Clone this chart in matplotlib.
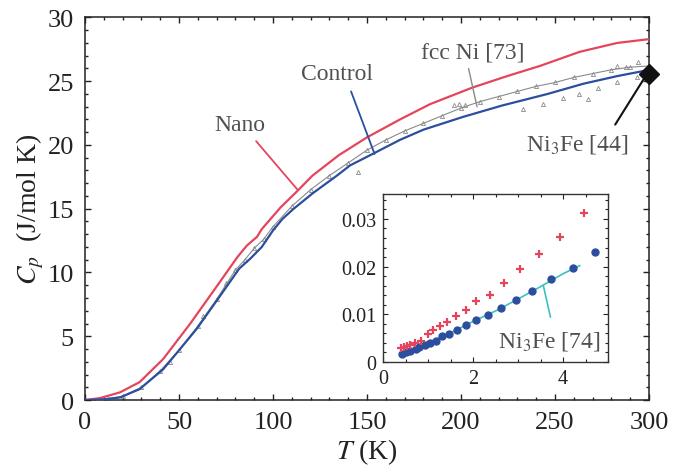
import matplotlib
matplotlib.use("Agg")
from matplotlib import pyplot as plt

plt.rcParams['font.family'] = ['Liberation Serif', 'DejaVu Serif']
plt.rcParams['mathtext.fontset'] = 'stix'

# main panel: heat capacity vs temperature
T_nano = [0, 8, 18.6, 29, 41.5, 56, 70, 81, 86, 91.5, 94, 104, 113, 121, 135, 150, 167.5, 183.5, 206, 224.5, 242, 263, 283, 300]
Cp_nano = [0, 0.15, 0.6, 1.4, 3.2, 6.0, 8.9, 11.2, 12.1, 12.8, 13.4, 15.1, 16.4, 17.6, 19.2, 20.6, 22.0, 23.2, 24.5, 25.4, 26.2, 27.3, 28.0, 28.3]

T_ctrl = [0, 10, 18.6, 29, 41.5, 50, 59.5, 72, 82, 88, 94, 100, 105, 111, 121, 134, 141, 153, 167.5, 180, 201, 222, 246, 265, 283, 297, 300]
Cp_ctrl = [0, 0.05, 0.2, 0.85, 2.4, 3.9, 5.6, 8.2, 10.3, 11.1, 12.0, 13.3, 14.2, 15.0, 16.2, 17.6, 18.4, 19.3, 20.4, 21.2, 22.2, 23.1, 24.0, 24.8, 25.4, 25.8, 25.7]

# fcc Ni [73]
T_ni = [5, 12, 20, 30, 40, 50, 60, 70, 80, 85, 90, 95, 100, 110, 120, 130, 140, 150, 160, 170, 180, 190, 200, 210, 220, 230, 240, 250, 260, 270, 280, 290, 300]
Cp_ni = [0.0, 0.1, 0.3, 1.0, 2.3, 3.9, 5.8, 7.9, 10.2, 11.0, 11.9, 12.6, 13.6, 15.2, 16.5, 17.6, 18.6, 19.6, 20.4, 21.1, 21.7, 22.3, 22.9, 23.4, 23.8, 24.2, 24.6, 24.9, 25.3, 25.6, 25.9, 26.1, 26.2]
T_ni_extra = [145, 196, 199, 202, 233, 243.6, 254, 263, 267.6, 273, 283, 293.6, 283, 288, 294, 45, 63, 75]
Cp_ni_extra = [17.9, 23.1, 23.2, 23.1, 22.8, 23.2, 23.7, 24.0, 23.6, 24.5, 24.9, 25.3, 26.2, 26.1, 26.5, 3.0, 6.6, 9.2]

# Ni3Fe [44]
T_ni3fe = [300]
Cp_ni3fe = [25.6]

# inset: low temperature
t_nano_in = [0.39, 0.46, 0.54, 0.61, 0.72, 0.84, 0.99, 1.12, 1.26, 1.43, 1.62, 1.84, 2.07, 2.37, 2.68, 3.05, 3.46, 3.93, 4.46]
c_nano_in = [0.0029, 0.0031, 0.0034, 0.0036, 0.0040, 0.0043, 0.0058, 0.0067, 0.0075, 0.0084, 0.0096, 0.0110, 0.0127, 0.0141, 0.0166, 0.0194, 0.0226, 0.0263, 0.0313]
t_ctrl_in = [0.43, 0.52, 0.61, 0.73, 0.81, 0.93, 1.04, 1.17, 1.32, 1.47, 1.65, 1.85, 2.07, 2.33, 2.63, 2.96, 3.32, 3.73, 4.21, 4.72]
c_ctrl_in = [0.0017, 0.0021, 0.0024, 0.0028, 0.0031, 0.0036, 0.0040, 0.0045, 0.0054, 0.0059, 0.0068, 0.0077, 0.0089, 0.0099, 0.0113, 0.0131, 0.0149, 0.0173, 0.0197, 0.0231]
t_fit = [0.43, 1.0, 1.5, 2.0, 2.5, 3.0, 3.5, 4.0, 4.37]
c_fit = [0.0017, 0.0040, 0.0061, 0.0085, 0.0107, 0.0132, 0.0158, 0.0185, 0.0202]

red = '#e5455c'
blue = '#2b4f9e'
cyan = '#3cc0c0'
grey = '#8a8a8a'
txt = '#505050'

fig = plt.figure(figsize=(6.84, 4.77), dpi=100)
ax = fig.add_axes([0.1243, 0.1593, 0.8246, 0.802])

ax.plot(T_ni, Cp_ni, color=grey, lw=0.8, marker='^', ms=3, mfc='none', mew=0.6, zorder=2)
ax.plot(T_ni_extra, Cp_ni_extra, ls='none', color=grey, marker='^', ms=3, mfc='none', mew=0.6, zorder=2)
ax.plot(T_nano, Cp_nano, color=red, lw=1.6, zorder=3)
ax.plot(T_ctrl, Cp_ctrl, color=blue, lw=1.6, zorder=3)
ax.plot(T_ni3fe, Cp_ni3fe, ls='none', marker='D', ms=10, color='#111111', clip_on=False, zorder=5)

ax.set_xlim(0, 300)
ax.set_ylim(0, 30)
ax.set_xticks([0, 50, 100, 150, 200, 250, 300])
ax.set_yticks([0, 5, 10, 15, 20, 25, 30])
ax.set_xticks(range(0, 301, 10), minor=True)
ax.set_yticks(range(0, 31), minor=True)
ax.tick_params(which='both', direction='in', top=True, right=True, width=1.0, colors='#222222', labelsize=19)
ax.tick_params(which='major', length=4.5, pad=8)
ax.tick_params(which='minor', length=2.5)
for s in ax.spines.values():
    s.set_linewidth(1.1)
    s.set_color('#222222')
ax.set_xlabel(r'$T$ (K)', fontsize=20, color='#222222', labelpad=2)
ax.set_ylabel(r'$C_p$  (J/mol K)', fontsize=20, color='#222222', labelpad=1)

# labels and leader lines
line = dict(arrowstyle='-', shrinkA=0, shrinkB=0)
ax.text(82.5, 21.6, 'Nano', fontsize=17, color=txt, ha='center', va='center')
ax.annotate('', xy=(113, 16.5), xytext=(91, 20.3), arrowprops=dict(line, color=red, lw=1.3))
ax.text(134, 25.6, 'Control', fontsize=17, color=txt, ha='center', va='center')
ax.annotate('', xy=(154, 19.3), xytext=(141.5, 24.2), arrowprops=dict(line, color=blue, lw=1.3))
ax.text(206, 27.3, 'fcc Ni [73]', fontsize=17, color=txt, ha='center', va='center')
ax.annotate('', xy=(208.5, 23.0), xytext=(204, 26.0), arrowprops=dict(line, color=grey, lw=1.0))
ax.text(262, 20.1, r'Ni$_3$Fe [44]', fontsize=17, color=txt, ha='center', va='center')
ax.annotate('', xy=(299, 25.6), xytext=(282, 21.6), arrowprops=dict(line, color='#111111', lw=1.5))

# inset
ins = fig.add_axes([0.56, 0.239, 0.329, 0.352])
ins.plot(t_fit, c_fit, color=cyan, lw=1.2, zorder=2)
ins.plot(t_ctrl_in, c_ctrl_in, ls='none', marker='o', ms=5, color=blue, zorder=3)
ins.plot(t_nano_in, c_nano_in, ls='none', marker='+', ms=6, mew=1.6, color=red, zorder=3)
ins.set_xlim(0, 5)
ins.set_ylim(0, 0.0352)
ins.set_xticks([0, 2, 4])
ins.set_yticks([0, 0.01, 0.02, 0.03])
ins.set_yticklabels(['0', '0.01', '0.02', '0.03'])
ins.set_xticks([i * 0.5 for i in range(11)], minor=True)
ins.set_yticks([i * 0.002 for i in range(18)], minor=True)
ins.tick_params(which='both', direction='in', top=True, right=True, colors='#222222', labelsize=14.5, width=0.8)
ins.tick_params(which='major', length=3.5, pad=5)
ins.tick_params(which='minor', length=2)
for s in ins.spines.values():
    s.set_linewidth(1.0)
    s.set_color('#333333')
ins.text(3.7, 0.0045, r'Ni$_3$Fe [74]', fontsize=17, color=txt, ha='center', va='center')
ins.annotate('', xy=(3.56, 0.0161), xytext=(3.72, 0.0094), arrowprops=dict(line, color=cyan, lw=1.2))

fig.savefig('out.png', dpi=100)
